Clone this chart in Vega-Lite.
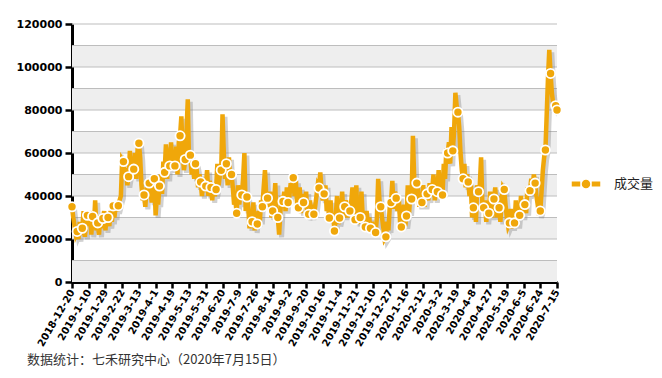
{
  "$schema": "https://vega.github.io/schema/vega-lite/v6.json",
  "width": 485,
  "height": 258,
  "autosize": {"type": "none"},
  "padding": {"left": 72, "top": 24, "right": 105, "bottom": 96},
  "background": "white",
  "config": {"view": {"stroke": null}},
  "title": {
    "text": "数据统计：七禾研究中心（2020年7月15日）",
    "orient": "bottom",
    "anchor": "start",
    "frame": "group",
    "dx": -45,
    "offset": 6,
    "font": "Noto Sans CJK SC",
    "fontSize": 13,
    "fontWeight": "normal",
    "color": "#333333"
  },
  "datasets": {
    "vol": [
      {"v":35000},{"v":30000},{"v":26000},{"v":22000},
      {"v":23500},{"v":20000},{"v":28000},{"v":22000},
      {"v":25000},{"v":33000},{"v":21000},{"v":27000},
      {"v":31000},{"v":26000},{"v":33000},{"v":22000},
      {"v":30500},{"v":25000},{"v":38000},{"v":24000},
      {"v":27500},{"v":22000},{"v":31000},{"v":25000},
      {"v":29500},{"v":33000},{"v":24000},{"v":32000},
      {"v":30000},{"v":26000},{"v":33000},{"v":28000},
      {"v":35400},{"v":30000},{"v":36000},{"v":33000},
      {"v":35500},{"v":38000},{"v":40000},{"v":57000},
      {"v":56000},{"v":48000},{"v":53000},{"v":45000},
      {"v":49000},{"v":61000},{"v":50000},{"v":58000},
      {"v":52500},{"v":60000},{"v":48000},{"v":62000},
      {"v":64500},{"v":58000},{"v":45000},{"v":38000},
      {"v":40500},{"v":35000},{"v":44000},{"v":40000},
      {"v":46000},{"v":42000},{"v":37000},{"v":46000},
      {"v":48000},{"v":31000},{"v":40000},{"v":36000},
      {"v":44600},{"v":50000},{"v":41000},{"v":56000},
      {"v":51000},{"v":64000},{"v":48000},{"v":62000},
      {"v":54000},{"v":65000},{"v":52000},{"v":60000},
      {"v":54000},{"v":63000},{"v":50000},{"v":65000},
      {"v":68000},{"v":77000},{"v":60000},{"v":52000},
      {"v":57000},{"v":70000},{"v":85000},{"v":55000},
      {"v":59000},{"v":50000},{"v":57000},{"v":48000},
      {"v":55000},{"v":52000},{"v":44000},{"v":50000},
      {"v":46500},{"v":40000},{"v":48000},{"v":42000},
      {"v":44600},{"v":52000},{"v":40000},{"v":47000},
      {"v":44000},{"v":38000},{"v":46000},{"v":40000},
      {"v":43000},{"v":55000},{"v":45000},{"v":50000},
      {"v":52000},{"v":78000},{"v":60000},{"v":48000},
      {"v":55000},{"v":45000},{"v":58000},{"v":47000},
      {"v":50000},{"v":44000},{"v":36000},{"v":38000},
      {"v":32000},{"v":45000},{"v":36000},{"v":42000},
      {"v":40500},{"v":48000},{"v":60000},{"v":33000},
      {"v":39500},{"v":35000},{"v":25000},{"v":33000},
      {"v":28000},{"v":37000},{"v":24000},{"v":30000},
      {"v":27000},{"v":33000},{"v":28000},{"v":38000},
      {"v":35000},{"v":44000},{"v":52000},{"v":40000},
      {"v":39000},{"v":35000},{"v":42000},{"v":30000},
      {"v":33000},{"v":36000},{"v":46000},{"v":28000},
      {"v":30000},{"v":22000},{"v":33000},{"v":40000},
      {"v":37500},{"v":42000},{"v":33000},{"v":44000},
      {"v":37000},{"v":40000},{"v":46000},{"v":42000},
      {"v":48500},{"v":40000},{"v":47000},{"v":36000},
      {"v":34500},{"v":44000},{"v":32000},{"v":41000},
      {"v":37000},{"v":35000},{"v":42000},{"v":30000},
      {"v":31500},{"v":38000},{"v":30000},{"v":36000},
      {"v":31500},{"v":35000},{"v":40000},{"v":45000},
      {"v":43700},{"v":51000},{"v":42000},{"v":38000},
      {"v":41000},{"v":45000},{"v":33000},{"v":36000},
      {"v":29800},{"v":38000},{"v":28000},{"v":32000},
      {"v":23700},{"v":30000},{"v":40000},{"v":27000},
      {"v":29800},{"v":33000},{"v":42000},{"v":30000},
      {"v":35000},{"v":38000},{"v":30000},{"v":36000},
      {"v":33000},{"v":37000},{"v":44000},{"v":31000},
      {"v":29000},{"v":45000},{"v":27000},{"v":34000},
      {"v":30000},{"v":42000},{"v":30000},{"v":28000},
      {"v":25600},{"v":33000},{"v":27000},{"v":30000},
      {"v":25000},{"v":28000},{"v":22000},{"v":26000},
      {"v":23000},{"v":30000},{"v":48000},{"v":38000},
      {"v":35000},{"v":30000},{"v":25000},{"v":20000},
      {"v":21000},{"v":28000},{"v":24000},{"v":35000},
      {"v":37000},{"v":47000},{"v":34000},{"v":42000},
      {"v":39000},{"v":33000},{"v":40000},{"v":28000},
      {"v":25600},{"v":30000},{"v":36000},{"v":26000},
      {"v":30700},{"v":45000},{"v":32000},{"v":40000},
      {"v":38600},{"v":68000},{"v":48000},{"v":40000},
      {"v":46000},{"v":42000},{"v":35000},{"v":40000},
      {"v":37000},{"v":45000},{"v":35000},{"v":43000},
      {"v":41000},{"v":38000},{"v":46000},{"v":40000},
      {"v":43000},{"v":50000},{"v":38000},{"v":44000},
      {"v":42000},{"v":52000},{"v":40000},{"v":46000},
      {"v":40500},{"v":55000},{"v":48000},{"v":62000},
      {"v":60000},{"v":65000},{"v":55000},{"v":72000},
      {"v":61000},{"v":70000},{"v":88000},{"v":82000},
      {"v":79000},{"v":72000},{"v":60000},{"v":52000},
      {"v":48000},{"v":55000},{"v":44000},{"v":50000},
      {"v":46500},{"v":40000},{"v":46000},{"v":30000},
      {"v":34500},{"v":40000},{"v":28000},{"v":45000},
      {"v":42000},{"v":45000},{"v":58000},{"v":36000},
      {"v":34500},{"v":38000},{"v":28000},{"v":35000},
      {"v":32000},{"v":42000},{"v":30000},{"v":40000},
      {"v":38600},{"v":44000},{"v":30000},{"v":40000},
      {"v":34500},{"v":28000},{"v":38000},{"v":44000},
      {"v":43000},{"v":36000},{"v":30000},{"v":26000},
      {"v":27500},{"v":34000},{"v":25000},{"v":30000},
      {"v":27500},{"v":38000},{"v":26000},{"v":33000},
      {"v":31000},{"v":40000},{"v":30000},{"v":38000},
      {"v":36000},{"v":32000},{"v":44000},{"v":40000},
      {"v":42500},{"v":48000},{"v":44000},{"v":50000},
      {"v":46000},{"v":40000},{"v":36000},{"v":31000},
      {"v":33000},{"v":42000},{"v":52000},{"v":58000},
      {"v":61400},{"v":78000},{"v":95000},{"v":108000},
      {"v":97000},{"v":88000},{"v":83000},{"v":81000},
      {"v":82000},{"v":80000}
    ]
  },
  "layer": [
    {
      "data": {"values": [
        {"a":0,"b":10000},{"a":20000,"b":30000},{"a":40000,"b":50000},
        {"a":60000,"b":70000},{"a":80000,"b":90000},{"a":100000,"b":110000}
      ]},
      "mark": {"type": "rect", "color": "#EEEEEE"},
      "encoding": {
        "y": {
          "field": "a", "type": "quantitative",
          "scale": {"domain": [0, 120000], "nice": false},
          "axis": {
            "title": null,
            "grid": false,
            "values": [0,20000,40000,60000,80000,100000,120000],
            "tickCount": 20,
            "format": "d",
            "labelFont": "DejaVu Sans",
            "labelFontWeight": "bold",
            "labelFontSize": 11,
            "labelColor": "#000000",
            "labelPadding": 3,
            "domainColor": "#000000",
            "domainWidth": 3,
            "tickColor": "#000000",
            "tickWidth": 2.5,
            "tickSize": 7
          }
        },
        "y2": {"field": "b"}
      }
    },
    {
      "data": {"values": [
        {"g":10000},{"g":20000},{"g":30000},{"g":40000},{"g":50000},{"g":60000},
        {"g":70000},{"g":80000},{"g":90000},{"g":100000},{"g":110000},{"g":120000}
      ]},
      "mark": {"type": "rule", "color": "#BDBDBD", "strokeWidth": 1.2},
      "encoding": {
        "y": {"field": "g", "type": "quantitative", "title": null}
      }
    },
    {
      "data": {"name": "vol"},
      "transform": [{"window": [{"op": "row_number", "as": "n"}]}],
      "mark": {"type": "line", "color": "#7A7A7A", "opacity": 0.35, "strokeWidth": 5, "xOffset": 2.5, "yOffset": 2.5},
      "encoding": {
        "x": {
          "field": "n", "type": "quantitative",
          "scale": {"domain": [1, 378], "nice": false, "zero": false},
          "axis": {
            "title": null,
            "grid": false,
            "values": [1,14,27,40,53,66,79,92,105,118,131,144,157,170,183,196,209,222,235,248,261,274,287,300,313,326,339,352,365,378],
            "tickCount": 60,
            "labelExpr": "['2018-12-20','2019-1-10','2019-1-29','2019-2-22','2019-3-13','2019-4-1','2019-4-19','2019-5-13','2019-5-31','2019-6-20','2019-7-9','2019-7-26','2019-8-14','2019-9-2','2019-9-20','2019-10-16','2019-11-4','2019-11-21','2019-12-10','2019-12-27','2020-1-16','2020-2-12','2020-3-2','2020-3-19','2020-4-8','2020-4-27','2020-5-19','2020-6-5','2020-6-24','2020-7-15'][(datum.value-1)/13]",
            "labelAngle": -60,
            "labelAlign": "right",
            "labelBaseline": "middle",
            "labelFont": "DejaVu Sans",
            "labelFontWeight": "bold",
            "labelFontSize": 10,
            "labelColor": "#000000",
            "labelPadding": 2,
            "labelOverlap": false,
            "labelFlush": false,
            "domainColor": "#000000",
            "domainWidth": 3,
            "tickColor": "#000000",
            "tickWidth": 2.5,
            "tickSize": 6
          }
        },
        "y": {"field": "v", "type": "quantitative", "title": null}
      }
    },
    {
      "data": {"name": "vol"},
      "transform": [{"window": [{"op": "row_number", "as": "n"}]}],
      "mark": {"type": "line", "color": "#F0A70A", "strokeWidth": 4.5},
      "encoding": {
        "x": {"field": "n", "type": "quantitative", "title": null},
        "y": {"field": "v", "type": "quantitative", "title": null}
      }
    },
    {
      "data": {"name": "vol"},
      "transform": [
        {"window": [{"op": "row_number", "as": "n"}]},
        {"filter": "(datum.n - 1) % 4 == 0 || datum.n == 378"}
      ],
      "mark": {"type": "point", "filled": true, "size": 85, "stroke": "white", "strokeWidth": 1.8, "opacity": 1, "strokeOpacity": 1},
      "encoding": {
        "x": {"field": "n", "type": "quantitative", "title": null},
        "y": {"field": "v", "type": "quantitative", "title": null},
        "color": {
          "datum": "成交量",
          "scale": {"range": ["#F0A70A"]},
          "legend": {
            "title": null,
            "orient": "none",
            "legendX": 503,
            "legendY": 149,
            "padding": 0,
            "symbolType": "M-1.5,-0.32 H-0.5 V0.32 H-1.5 Z M0.5,-0.32 H1.5 V0.32 H0.5 Z M-0.5,0 A0.5,0.5 0 1,0 0.5,0 A0.5,0.5 0 1,0 -0.5,0 Z",
            "symbolSize": 400,
            "labelOffset": 17,
            "labelFont": "Noto Sans CJK SC",
            "labelFontSize": 13,
            "labelColor": "#222222",
            "encode": {
              "symbols": {"update": {
                "fill": {"value": "#F0A70A"},
                "stroke": {"value": "white"},
                "strokeWidth": {"value": 1.5},
                "opacity": {"value": 1},
                "fillOpacity": {"value": 1}
              }}
            }
          }
        }
      }
    }
  ]
}
